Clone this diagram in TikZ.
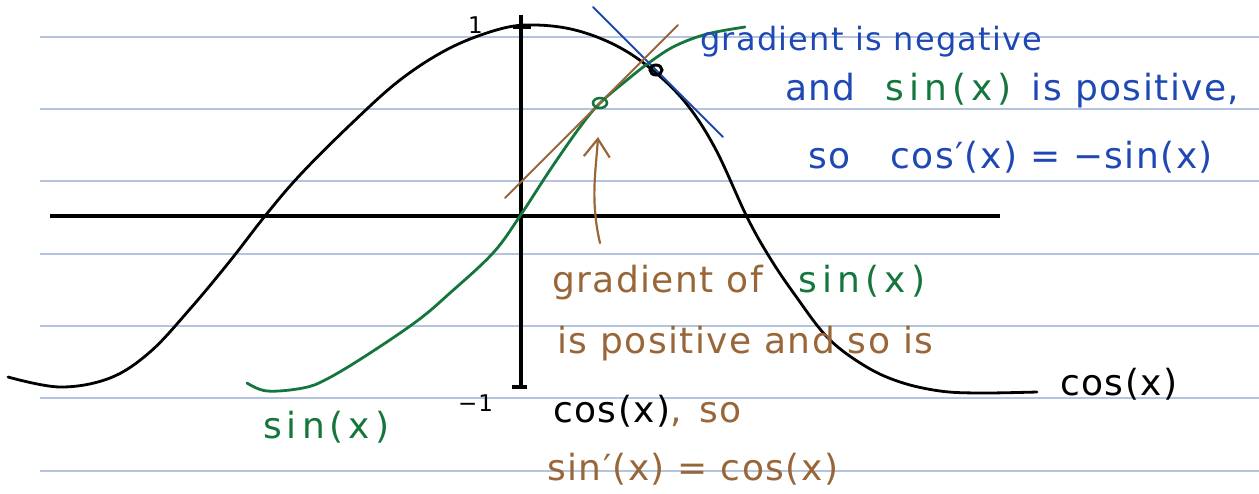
\documentclass[tikz,border=0pt]{standalone}
\usepackage{fontspec}
\setmainfont{DejaVu Sans}[LetterSpace=4.0]
\newfontfamily\widehand{DejaVu Sans}[LetterSpace=14.0]
\usetikzlibrary{arrows.meta,positioning,calc}

\definecolor{penblue}{RGB}{30,72,180}
\definecolor{pengreen}{RGB}{20,118,60}
\definecolor{penbrown}{RGB}{152,102,56}
\definecolor{ruling}{RGB}{180,196,222}

\newcommand{\sinword}{{\widehand sin(x)}}

\begin{document}
\begin{tikzpicture}[
    x=1pt, y=-1pt,
    font=\fontsize{36}{42}\selectfont,
    ruleline/.style={draw=ruling, line width=1.5pt},
    axisline/.style={draw=black, line width=3.2pt},
    curve/.style={line width=2.8pt, line cap=round, line join=round},
    tangent/.style={line width=2pt, line cap=round},
    note/.style={inner sep=0pt, anchor=base west},
    ticklabel/.style={font=\fontsize{23}{26}\selectfont, inner sep=0pt, anchor=base west}
]
\useasboundingbox (0,0) rectangle (1259,493);

% ruled paper
\foreach \ry in {37,109,181,254,326,398,471}
  \draw[ruleline] (40,\ry) -- (1259,\ry);

% axes
\coordinate (xleft) at (50,216);
\coordinate (xright) at (1000,216);
\coordinate (ytop) at (521,15);
\coordinate (ybot) at (521,387);
\draw[axisline] (xleft) -- (xright);
\draw[axisline] (ytop) -- (ybot);
\draw[axisline] (513,27) -- (531,27);
\draw[axisline] (512,387) -- (527,387);
\node[ticklabel] (lblone) at (468,33) {1};
\node[ticklabel] (lblmone) at (458,411) {−1};

% cos(x)
\draw[curve] plot[smooth, tension=0.6] coordinates {
  (8,377) (60,387) (110,378) (150,352) (190,309) (230,261) (265,216)
  (300,175) (350,125) (400,80) (450,48) (500,29) (535,25) (575,30)
  (615,45) (650,68) (685,102) (715,148) (747,217) (770,258) (795,295)
  (828,338) (865,366) (900,382) (940,391) (980,393) (1037,392)};

% sin(x)
\draw[curve, pengreen] plot[smooth, tension=0.6] coordinates {
  (247,383) (267,391) (303,388) (327,379) (367,355) (417,321) (450,293)
  (493,253) (520,216) (550,170) (580,127) (600,103) (627,80) (650,62)
  (675,46) (707,34) (745,27)};

% tangents
\coordinate (negtop) at (593,7);
\coordinate (negbot) at (723,137);
\coordinate (posbot) at (505,198);
\coordinate (postop) at (678,25);
\draw[tangent, penblue] (negtop) -- (negbot);
\draw[tangent, penbrown] (posbot) -- (postop);

% marked points
\draw[line width=2.5pt, pengreen] (600,103) ellipse (7 and 5);
\draw[line width=3pt] (656,70) ellipse (6 and 5);

% arrow to the green point
\coordinate (arrtail) at (600,243);
\coordinate (arrtip) at (598,137);
\draw[penbrown, line width=2.2pt, line cap=round,
      -{Straight Barb[length=18pt,width=26pt]}]
  (arrtail) .. controls (590,200) and (596,170) .. (arrtip);

% notes
\node[note, penblue, font=\fontsize{32}{38}\selectfont] (negline) at (700,50) {gradient is negative};
\node[note, penblue] (posline) at (785,100)
  {and\hspace{30pt}\textcolor{pengreen}{\sinword}\hspace{20pt}is positive,};
\node[note, penblue] (cosline) at (808,168) {so\hspace{40pt}cos′(x) = −sin(x)};
\node[note, penbrown] (gradof) at (552,292)
  {gradient of\hspace{36pt}\textcolor{pengreen}{\sinword}};
\node[note, penbrown] (posand) at (557,353) {is positive and so is};
\node[note] (coslbl) at (553,422) {cos(x)\textcolor{penbrown}{,\hspace{18pt}so}};
\node[note, penbrown] (sinder) at (547,480) {sin′(x) = cos(x)};
\node[note] (cosname) at (1060,395) {cos(x)};
\node[note, pengreen] (sinname) at (263,438) {\sinword};

\end{tikzpicture}
\end{document}
